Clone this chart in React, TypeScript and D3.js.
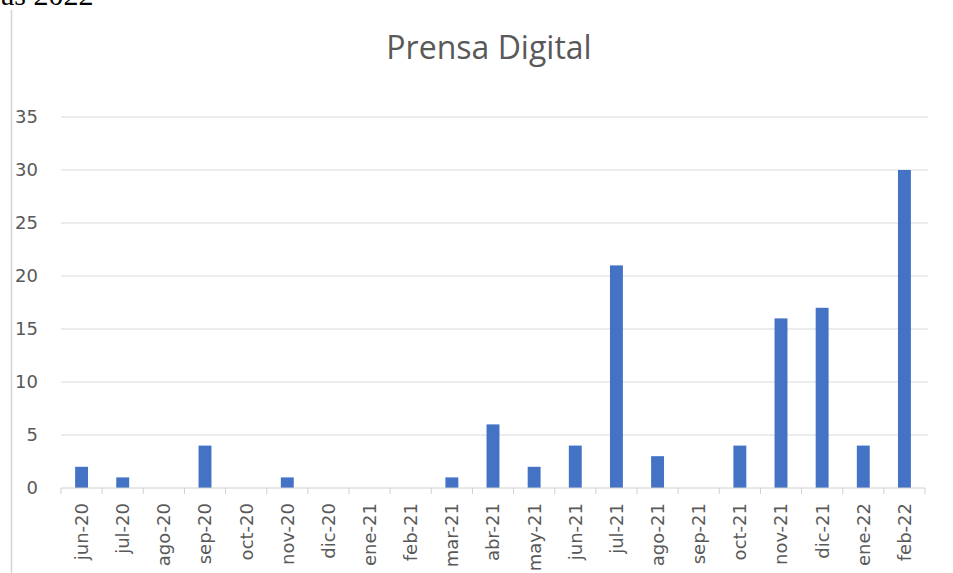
import * as d3 from 'd3'

const W = 953
const H = 573
const MARGIN = { top: 117, right: 28, bottom: 85, left: 61 }

const months = [
  'jun-20', 'jul-20', 'ago-20', 'sep-20', 'oct-20', 'nov-20', 'dic-20',
  'ene-21', 'feb-21', 'mar-21', 'abr-21', 'may-21', 'jun-21', 'jul-21',
  'ago-21', 'sep-21', 'oct-21', 'nov-21', 'dic-21', 'ene-22', 'feb-22',
]
const counts = [2, 1, 0, 4, 0, 1, 0, 0, 0, 1, 6, 2, 4, 21, 3, 0, 4, 16, 17, 4, 30]
const yTicks = [0, 5, 10, 15, 20, 25, 30, 35]

const TITLE_FONT = '"Open Sans", "Noto Sans", sans-serif'
const TICK_FONT = '"DejaVu Sans", sans-serif'
const TEXT_COLOR = '#595959'

export default function App() {
  const boundsWidth = 925 - MARGIN.left
  const boundsHeight = 488 - MARGIN.top

  const xScale = d3.scaleBand<string>().domain(months).range([0, boundsWidth]).paddingInner(0.686).paddingOuter(0.343)
  const bandScale = d3.scaleBand<string>().domain(months).range([0, boundsWidth])
  const yScale = d3.scaleLinear().domain([0, 35]).range([boundsHeight, 0])

  // bars
  const bars = months.map((m, i) => (
    <rect
      key={m}
      x={xScale(m)}
      y={yScale(counts[i])}
      width={xScale.bandwidth()}
      height={boundsHeight - yScale(counts[i])}
      fill="#4472C4"
    />
  ))

  return (
    <svg width={W} height={H} style={{ position: 'absolute', left: 0, top: 0, background: 'white' }}>
      {/* cut-off text from the page above */}
      <text x={1} y={5} fontFamily='"Liberation Serif", serif' fontSize={30} fill="#000">
        as 2022
      </text>
      <line x1={11.5} x2={11.5} y1={10} y2={H} stroke="#d4d4d4" strokeWidth={1.5} />

      <text x={489} y={59} textAnchor="middle" fontFamily={TITLE_FONT} fontSize={32} fill={TEXT_COLOR}>
        Prensa Digital
      </text>

      <g transform={`translate(${MARGIN.left},${MARGIN.top})`}>
        {yTicks.map((t) => (
          <g key={t}>
            {t > 0 && (
              <line x1={0} x2={boundsWidth + 3} y1={yScale(t)} y2={yScale(t)} stroke="#d9d9d9" strokeWidth={1} />
            )}
            <text
              x={-23}
              y={yScale(t)}
              dy="0.36em"
              textAnchor="end"
              fontFamily={TICK_FONT}
              fontSize={18}
              fill={TEXT_COLOR}
            >
              {t}
            </text>
          </g>
        ))}

        {bars}

        {/* axis */}
        <line x1={0} x2={boundsWidth} y1={boundsHeight} y2={boundsHeight} stroke="#d0d0d0" strokeWidth={1} />
        {d3.range(months.length + 1).map((i) => {
          const x = i * bandScale.step()
          return <line key={i} x1={x} x2={x} y1={boundsHeight} y2={boundsHeight + 6} stroke="#d0d0d0" />
        })}

        {months.map((m) => {
          const cx = (bandScale(m) ?? 0) + bandScale.step() / 2
          return (
            <text
              key={m}
              transform={`translate(${cx},${boundsHeight + 15}) rotate(-90)`}
              textAnchor="end"
              dy="0.36em"
              fontFamily={TICK_FONT}
              fontSize={18}
              fill={TEXT_COLOR}
            >
              {m}
            </text>
          )
        })}
      </g>
    </svg>
  )
}
